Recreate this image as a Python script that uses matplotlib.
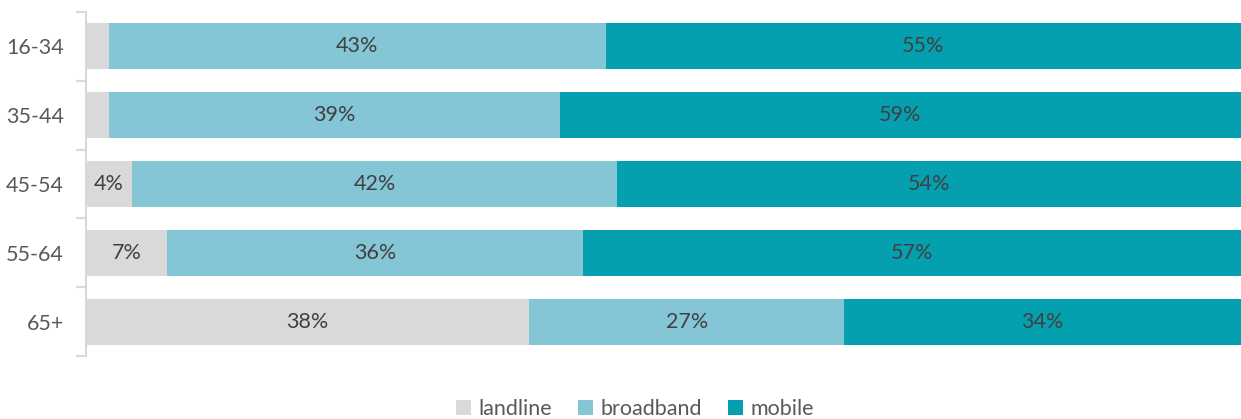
import matplotlib
matplotlib.use("Agg")
import matplotlib.pyplot as plt
import numpy as np

ages = ["16-34", "35-44", "45-54", "55-64", "65+"]
landline = [2, 2, 4, 7, 38]
broadband = [43, 39, 42, 36, 27]
mobile = [55, 59, 54, 57, 34]
series = [("landline", landline, "#D9D9D9"),
          ("broadband", broadband, "#84C5D6"),
          ("mobile", mobile, "#04A0B0")]

plt.rcParams["font.family"] = ["Lato", "DejaVu Sans"]

fig = plt.figure(figsize=(12.41, 4.19), dpi=100)
ax = fig.add_axes([86 / 1241, 63 / 419, 1155 / 1241, 344 / 419])

y = np.arange(len(ages))
totals = np.array(landline) + np.array(broadband) + np.array(mobile)
left = np.zeros(len(ages))
for name, vals, col in series:
    vals = np.array(vals, dtype=float)
    w = vals / totals * 100
    ax.barh(y, w, left=left, height=0.67, color=col, label=name)
    for i in range(len(ages)):
        if vals[i] >= 3:
            ax.text(left[i] + w[i] / 2, y[i], f"{int(vals[i])}%",
                    ha="center", va="center", fontsize=15.5, color="#404040")
    left += w

ax.set_xlim(0, 100)
ax.set_ylim(len(ages) - 0.5, -0.5)
ax.set_yticks(y)
ax.set_yticklabels(ages, fontsize=15.5, color="#595959")
ax.tick_params(axis="y", length=0, pad=16)
ax.set_yticks(np.arange(-0.5, len(ages)), minor=True)
ax.tick_params(axis="y", which="minor", length=7, color="#D9D9D9", width=1.5)
ax.set_xticks([])
for s in ["top", "right", "bottom"]:
    ax.spines[s].set_visible(False)
ax.spines["left"].set_color("#D9D9D9")
ax.spines["left"].set_linewidth(1.5)

leg = ax.legend(loc="center", bbox_to_anchor=(0.475, -0.155), ncol=3, frameon=False,
                fontsize=15.5, handlelength=0.7, handleheight=0.7, handletextpad=0.35,
                columnspacing=1.2)
for t in leg.get_texts():
    t.set_color("#595959")

fig.savefig("out.png", dpi=100)
